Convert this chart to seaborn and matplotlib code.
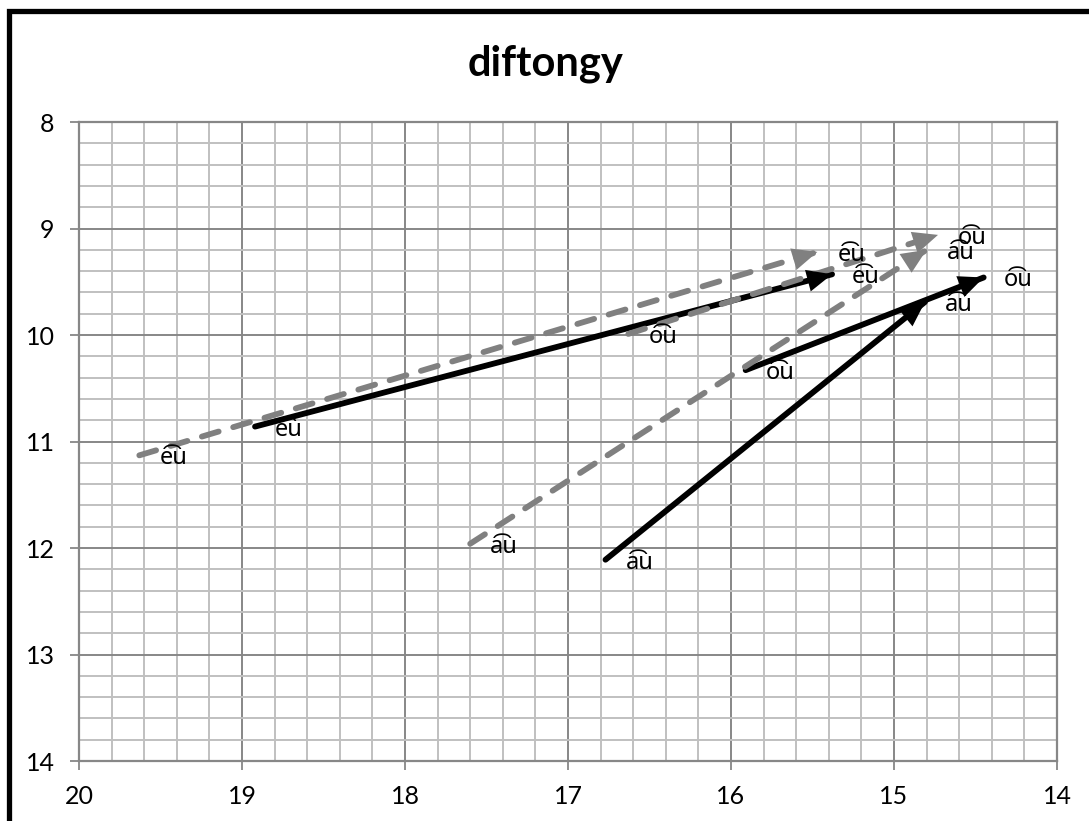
import matplotlib
matplotlib.use("Agg")
import matplotlib.pyplot as plt
import seaborn as sns
import pandas as pd
from matplotlib.ticker import MultipleLocator
from matplotlib.patches import Rectangle

# ---- data ----
diphthongs = ["e\u0361u", "o\u0361u", "a\u0361u"]
# series 1 (black, solid)
black_start_x = [18.92, 15.91, 16.77]
black_start_y = [10.86, 10.33, 12.11]
black_end_x = [15.38, 14.45, 14.81]
black_end_y = [9.43, 9.46, 9.69]
# series 2 (gray, dashed)
gray_start_x = [19.63, 16.63, 17.60]
gray_start_y = [11.13, 9.99, 11.96]
gray_end_x = [15.47, 14.73, 14.80]
gray_end_y = [9.22, 9.06, 9.20]
x_ticks = [20, 19, 18, 17, 16, 15, 14]
y_ticks = [8, 9, 10, 11, 12, 13, 14]
title = "diftongy"

rows = []
for kind, sx, sy, ex, ey in [("black", black_start_x, black_start_y, black_end_x, black_end_y),
                             ("gray", gray_start_x, gray_start_y, gray_end_x, gray_end_y)]:
    for i, lab in enumerate(diphthongs):
        seg = f"{kind}-{i}"
        rows.append(dict(x=sx[i], y=sy[i], seg=seg, kind=kind, label=lab, pos="start"))
        rows.append(dict(x=ex[i], y=ey[i], seg=seg, kind=kind, label=lab, pos="end"))
df = pd.DataFrame(rows)

sns.set_theme(style="white")
plt.rcParams["font.family"] = ["Lato", "DejaVu Sans"]

fig = plt.figure(figsize=(10.89, 8.21), dpi=100)
ax = fig.add_axes([79 / 1089, 1 - 761 / 821, (1057 - 79) / 1089, (761 - 122) / 821])

GRAY = "#808080"
MAJ = "#878787"
MIN = "#C0C0C0"

ax.set_xlim(20, 14)
ax.set_ylim(14, 8)
ax.set_xticks(x_ticks)
ax.set_yticks(y_ticks)
ax.xaxis.set_minor_locator(MultipleLocator(0.2))
ax.yaxis.set_minor_locator(MultipleLocator(0.2))
ax.grid(which="minor", color=MIN, lw=1.4, zorder=0)
ax.grid(which="major", color=MAJ, lw=1.4, zorder=0)
ax.set_axisbelow(True)
for sp in ax.spines.values():
    sp.set_color(MAJ)
    sp.set_linewidth(1.6)
ax.tick_params(which="major", direction="out", length=6.5, width=1.3, color=MAJ,
               labelsize=18, labelcolor="black", bottom=True, left=True)
ax.tick_params(axis="x", which="major", pad=11)
ax.tick_params(axis="y", which="major", pad=11)
ax.tick_params(which="minor", length=0)

for kind, color, ls in [("black", "black", "-"), ("gray", GRAY, (0, (3.0, 2.6)))]:
    sub = df[df.kind == kind]
    sns.lineplot(data=sub, x="x", y="y", units="seg", estimator=None, sort=False,
                 color=color, linewidth=4.2, linestyle=ls, legend=False, ax=ax)
for ln in ax.get_lines():
    ln.set_solid_capstyle("round")
    ln.set_dash_capstyle("round")
    ln.set_zorder(3)

ax.set_xlabel("")
ax.set_ylabel("")

# arrowheads
for kind, color in [("black", "black"), ("gray", GRAY)]:
    sub = df[df.kind == kind]
    for seg, g in sub.groupby("seg", sort=False):
        s = g[g.pos == "start"].iloc[0]
        e = g[g.pos == "end"].iloc[0]
        ax.annotate("", xy=(e.x, e.y), xytext=(s.x, s.y),
                    arrowprops=dict(arrowstyle="-|>,head_length=1.8,head_width=0.8",
                                    mutation_scale=10, color=color, lw=0,
                                    shrinkA=0, shrinkB=0), zorder=4)

# data labels
for _, r in df.iterrows():
    ax.annotate(r.label, xy=(r.x, r.y), xytext=(20, -3), textcoords="offset pixels",
                ha="left", va="center", fontsize=17, color="black",
                family=["Noto Sans", "DejaVu Sans"], zorder=5)

fig.text(546 / 1089, 1 - 64 / 821, title, ha="center", va="center",
         fontsize=30, fontweight="bold", color="black")

# outer chart frame (cropped on the right and bottom)
fig.patches.append(Rectangle((9 / 1089, -0.2), 1.5, 1.2 - 11 / 821,
                             transform=fig.transFigure, fill=False,
                             edgecolor="black", lw=3.8, zorder=10))

fig.savefig("out.png", dpi=100)
